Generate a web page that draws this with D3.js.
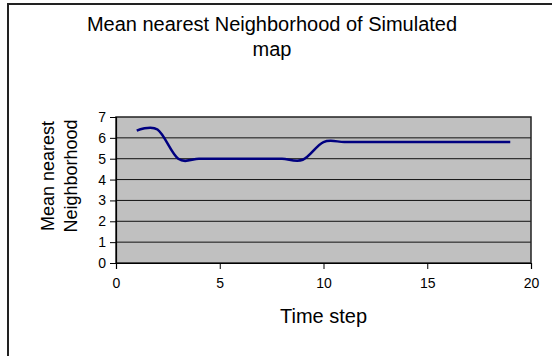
<!DOCTYPE html>
<html>
<head>
<meta charset="UTF-8" />
<title>Mean nearest Neighborhood</title>
<script src="https://cdn.jsdelivr.net/npm/d3@7"></script>
<style>
  body { margin: 0; background: #fff; }
  text { font-family: "Liberation Sans", Arial, sans-serif; fill: #000; }
</style>
</head>
<body>
<div id="chart"></div>
<script>
// data
var timeSteps = [1, 2, 3, 4, 5, 6, 7, 8, 9, 10, 11, 12, 13, 14, 15, 16, 17, 18, 19];
var meanNN    = [6.35, 6.4, 5.0, 5.0, 5.0, 5.0, 5.0, 5.0, 4.95, 5.8, 5.8, 5.8, 5.8, 5.8, 5.8, 5.8, 5.8, 5.8, 5.8];
var xTicks = [0, 5, 10, 15, 20];
var yTicks = [0, 1, 2, 3, 4, 5, 6, 7];
var titleLines = ["Mean nearest Neighborhood of Simulated", "map"];
var yTitleLines = ["Mean nearest", "Neighborhood"];
var xTitle = "Time step";

var W = 552, H = 356;
var plot = { left: 116, right: 531, top: 117, bottom: 263 };

var svg = d3.select("#chart").append("svg")
    .attr("width", W).attr("height", H);

// outer chart frame (runs off the right / bottom edges)
svg.append("rect")
    .attr("x", 8).attr("y", 4)
    .attr("width", 600).attr("height", 400)
    .attr("fill", "#fff")
    .attr("stroke", "#222").attr("stroke-width", 2);

var x = d3.scaleLinear().domain([0, 20]).range([plot.left, plot.right]);
var y = d3.scaleLinear().domain([0, 7]).range([plot.bottom, plot.top]);

// plot area
svg.append("rect")
    .attr("x", plot.left).attr("y", plot.top)
    .attr("width", plot.right - plot.left).attr("height", plot.bottom - plot.top)
    .attr("fill", "#c0c0c0");

// gridlines
svg.append("g").selectAll("line")
    .data(yTicks.filter(function(d) { return d > 0 && d < 7; }))
    .enter().append("line")
    .attr("x1", plot.left).attr("x2", plot.right)
    .attr("y1", function(d) { return y(d); })
    .attr("y2", function(d) { return y(d); })
    .attr("stroke", "#111").attr("stroke-width", 1);

// plot border
svg.append("rect")
    .attr("x", plot.left).attr("y", plot.top)
    .attr("width", plot.right - plot.left).attr("height", plot.bottom - plot.top)
    .attr("fill", "none")
    .attr("stroke", "#222").attr("stroke-width", 1.5);

// axes
var yAxis = d3.axisLeft(y).tickValues(yTicks).tickSize(6).tickPadding(4)
    .tickFormat(d3.format("d"));
var gy = svg.append("g").attr("transform", "translate(" + plot.left + ",0)").call(yAxis);

var xAxis = d3.axisBottom(x).tickValues(xTicks).tickSize(6).tickPadding(9)
    .tickFormat(d3.format("d"));
var gx = svg.append("g").attr("transform", "translate(0," + plot.bottom + ")").call(xAxis);

[gx, gy].forEach(function(g) {
  g.select(".domain").attr("stroke", "#000").attr("stroke-width", 1.2);
  g.selectAll(".tick line").attr("stroke", "#000");
  g.selectAll(".tick text")
    .attr("font-family", "Liberation Sans, Arial, sans-serif")
    .attr("font-size", 14).attr("fill", "#000");
});

// series line, smoothed like the original
var line = d3.line()
    .x(function(d, i) { return x(timeSteps[i]); })
    .y(function(d) { return y(d); })
    .curve(d3.curveCatmullRom.alpha(0));

svg.append("path")
    .datum(meanNN)
    .attr("d", line)
    .attr("fill", "none")
    .attr("stroke", "#000080")
    .attr("stroke-width", 2.5);

// titles
svg.append("g").selectAll("text")
    .data(titleLines)
    .enter().append("text")
    .attr("x", 272).attr("y", function(d, i) { return 31 + i * 25; })
    .attr("text-anchor", "middle")
    .attr("font-size", 20)
    .text(function(d) { return d; });

svg.append("text")
    .attr("x", (plot.left + plot.right) / 2).attr("y", 323)
    .attr("text-anchor", "middle")
    .attr("font-size", 20)
    .text(xTitle);

svg.append("g").attr("transform", "translate(0,176) rotate(-90)")
    .selectAll("text")
    .data(yTitleLines)
    .enter().append("text")
    .attr("x", 0).attr("y", function(d, i) { return 54 + i * 23; })
    .attr("text-anchor", "middle")
    .attr("font-size", 18)
    .text(function(d) { return d; });
</script>
</body>
</html>
